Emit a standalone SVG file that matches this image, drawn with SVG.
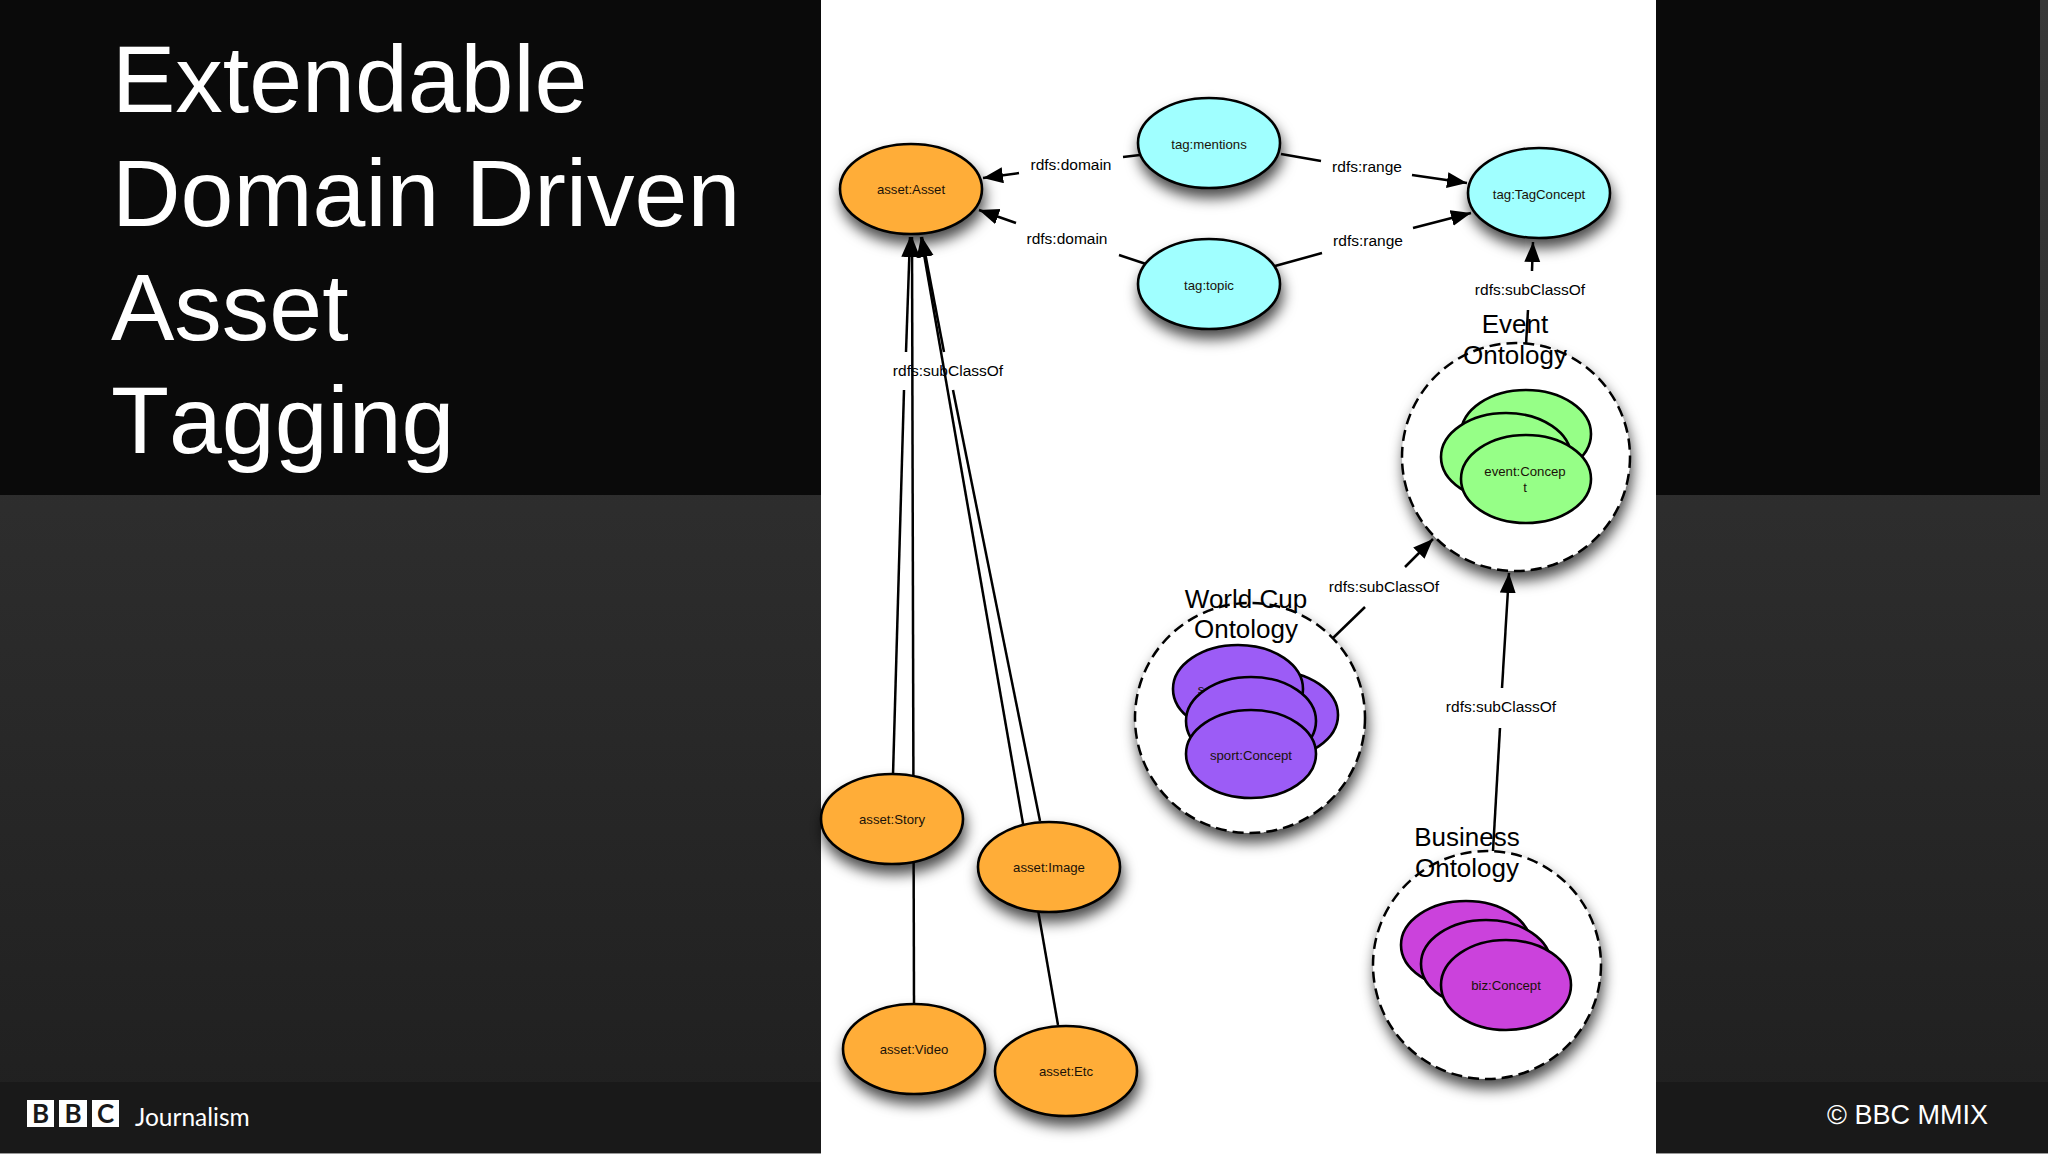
<svg xmlns="http://www.w3.org/2000/svg" width="2048" height="1154" viewBox="0 0 2048 1154">
<style>
.n{stroke:#000;stroke-width:2.6}
.o{fill:#ffad38}.c{fill:#a0ffff}.g{fill:#96ff87}.p{fill:#9c5cf6}.m{fill:#cb42dc}
.t{font-family:"Liberation Sans",Arial,sans-serif;font-size:13.200px;fill:#1a1208;text-anchor:middle}
.l{font-family:"Liberation Sans",Arial,sans-serif;font-size:15.500px;fill:#000;text-anchor:middle}
.b{font-family:"Liberation Sans",Arial,sans-serif;font-size:26px;fill:#000;text-anchor:middle}
.h{font-family:"Liberation Sans",Arial,sans-serif;font-size:95px;fill:#fff;font-kerning:none}
.d{fill:#fff;stroke:#000;stroke-width:2.500;stroke-dasharray:11 6}
#connectors line{stroke:#000;stroke-width:2.500;fill:none}
.s{filter:url(#sh)}
</style>
<defs>
<linearGradient id="bg" x1="0" y1="0" x2="0" y2="1"><stop offset="0" stop-color="#383838"/><stop offset="1" stop-color="#1f1f1f"/></linearGradient>
<filter id="sh" x="-25%" y="-25%" width="150%" height="170%"><feDropShadow dx="2" dy="9" stdDeviation="7" flood-color="#000" flood-opacity="0.7"/></filter>
<marker id="a" markerUnits="userSpaceOnUse" markerWidth="22" markerHeight="18" refX="20" refY="8" orient="auto"><path d="M0,0L20,8L0,16z" fill="#000"/></marker>
</defs>
<g id="background">
<rect width="2048" height="1154" fill="url(#bg)"/>
<rect width="821" height="495" fill="#0a0a0a"/>
<rect x="1656" width="384" height="495" fill="#0a0a0a"/>
<rect y="1082" width="2048" height="72" fill="#191919"/>
<rect y="1153" width="2048" height="1" fill="#999"/>
<rect x="821" width="835" height="1154" fill="#fff"/>
</g>
<g id="title" class="h">
<text x="112" y="112">Extendable</text>
<text x="112" y="226">Domain Driven</text>
<text x="111" y="340">Asset</text>
<text x="111" y="453">Tagging</text>
</g>
<g id="connectors">
<line x1="914" y1="1003" x2="912" y2="237" marker-end="url(#a)"/>
<line x1="893" y1="775" x2="904" y2="390"/>
<line x1="906" y1="352" x2="910" y2="237" marker-end="url(#a)"/>
<line x1="1040" y1="821" x2="953" y2="390"/>
<line x1="944" y1="352" x2="922" y2="237" marker-end="url(#a)"/>
<line x1="1058" y1="1025" x2="921" y2="237" marker-end="url(#a)"/>
<line x1="1140" y1="155" x2="1123" y2="157"/>
<line x1="1019" y1="173" x2="983" y2="178" marker-end="url(#a)"/>
<line x1="1146" y1="264" x2="1119" y2="255"/>
<line x1="1016" y1="223" x2="979" y2="210" marker-end="url(#a)"/>
<line x1="1281" y1="154" x2="1321" y2="161"/>
<line x1="1412" y1="175" x2="1467" y2="183" marker-end="url(#a)"/>
<line x1="1275" y1="266" x2="1322" y2="253"/>
<line x1="1413" y1="228" x2="1471" y2="213" marker-end="url(#a)"/>
<line x1="1532" y1="271" x2="1533" y2="242" marker-end="url(#a)"/>
<line x1="1528" y1="310" x2="1526" y2="345"/>
<line x1="1333" y1="638" x2="1365" y2="607"/>
<line x1="1405" y1="567" x2="1433" y2="539" marker-end="url(#a)"/>
<line x1="1493" y1="851" x2="1500" y2="728"/>
<line x1="1502" y1="688" x2="1509" y2="573" marker-end="url(#a)"/>
</g>
<g id="connector-labels" class="l">
<text x="1071" y="170">rdfs:domain</text>
<text x="1067" y="244">rdfs:domain</text>
<text x="1367" y="172">rdfs:range</text>
<text x="1368" y="246">rdfs:range</text>
<text x="1530" y="295">rdfs:subClassOf</text>
<text x="948" y="376">rdfs:subClassOf</text>
<text x="1384" y="592">rdfs:subClassOf</text>
<text x="1501" y="712">rdfs:subClassOf</text>
</g>
<g id="asset-asset"><ellipse class="n o s" cx="911" cy="189" rx="71" ry="45"/><text class="t" x="911" y="194">asset:Asset</text></g>
<g id="tag-mentions"><ellipse class="n c s" cx="1209" cy="143" rx="71" ry="45"/><text class="t" x="1209" y="149">tag:mentions</text></g>
<g id="tag-topic"><ellipse class="n c s" cx="1209" cy="284" rx="71" ry="45"/><text class="t" x="1209" y="290">tag:topic</text></g>
<g id="tag-concept"><ellipse class="n c s" cx="1539" cy="193" rx="71" ry="45"/><text class="t" x="1539" y="199">tag:TagConcept</text></g>
<g id="asset-story"><ellipse class="n o s" cx="892" cy="819" rx="71" ry="45"/><text class="t" x="892" y="824">asset:Story</text></g>
<g id="asset-image"><ellipse class="n o s" cx="1049" cy="867" rx="71" ry="45"/><text class="t" x="1049" y="872">asset:Image</text></g>
<g id="asset-video"><ellipse class="n o s" cx="914" cy="1049" rx="71" ry="45"/><text class="t" x="914" y="1054">asset:Video</text></g>
<g id="asset-etc"><ellipse class="n o s" cx="1066" cy="1071" rx="71" ry="45"/><text class="t" x="1066" y="1076">asset:Etc</text></g>
<g id="event-ontology">
<circle class="d s" cx="1516" cy="457" r="114"/>
<ellipse class="n g" cx="1526" cy="434" rx="65" ry="44"/>
<ellipse class="n g" cx="1506" cy="457" rx="65" ry="44"/>
<ellipse class="n g" cx="1526" cy="479" rx="65" ry="44"/>
<text class="t" x="1525" y="476">event:Concep</text><text class="t" x="1525" y="492">t</text>
<text class="b" x="1515" y="333">Event</text><text class="b" x="1515" y="364">Ontology</text>
</g>
<g id="worldcup-ontology">
<circle class="d s" cx="1250" cy="718" r="115"/>
<ellipse class="n p" cx="1273" cy="715" rx="65" ry="44"/>
<ellipse class="n p" cx="1238" cy="689" rx="65" ry="44"/>
<text class="t" x="1201" y="694">s</text>
<ellipse class="n p" cx="1251" cy="721" rx="65" ry="44"/>
<ellipse class="n p" cx="1251" cy="754" rx="65" ry="44"/>
<text class="t" x="1251" y="760">sport:Concept</text>
<text class="b" x="1246" y="608">World Cup</text><text class="b" x="1246" y="638">Ontology</text>
</g>
<g id="business-ontology">
<circle class="d s" cx="1487" cy="965" r="114"/>
<ellipse class="n m" cx="1466" cy="945" rx="65" ry="44"/>
<ellipse class="n m" cx="1486" cy="964" rx="65" ry="44"/>
<ellipse class="n m" cx="1506" cy="985" rx="65" ry="45"/>
<text class="t" x="1506" y="990">biz:Concept</text>
<text class="b" x="1467" y="846">Business</text><text class="b" x="1467" y="877">Ontology</text>
</g>
<g id="footer">
<g fill="#fff"><rect x="27" y="1100" width="27" height="27"/><rect x="59" y="1100" width="28" height="27"/><rect x="92" y="1100" width="27" height="27"/></g>
<g font-family="Lato,sans-serif" font-size="26" font-weight="700" fill="#191919" text-anchor="middle"><text x="40.500" y="1123">B</text><text x="73" y="1123">B</text><text x="105.500" y="1123">C</text></g>
<text x="135" y="1126" font-family="Lato,sans-serif" font-size="24.500" fill="#fff">Journalism</text>
<text x="1827" y="1124" font-family="'Liberation Sans',Arial,sans-serif" font-size="27" fill="#fff">© BBC MMIX</text>
</g>
</svg>
